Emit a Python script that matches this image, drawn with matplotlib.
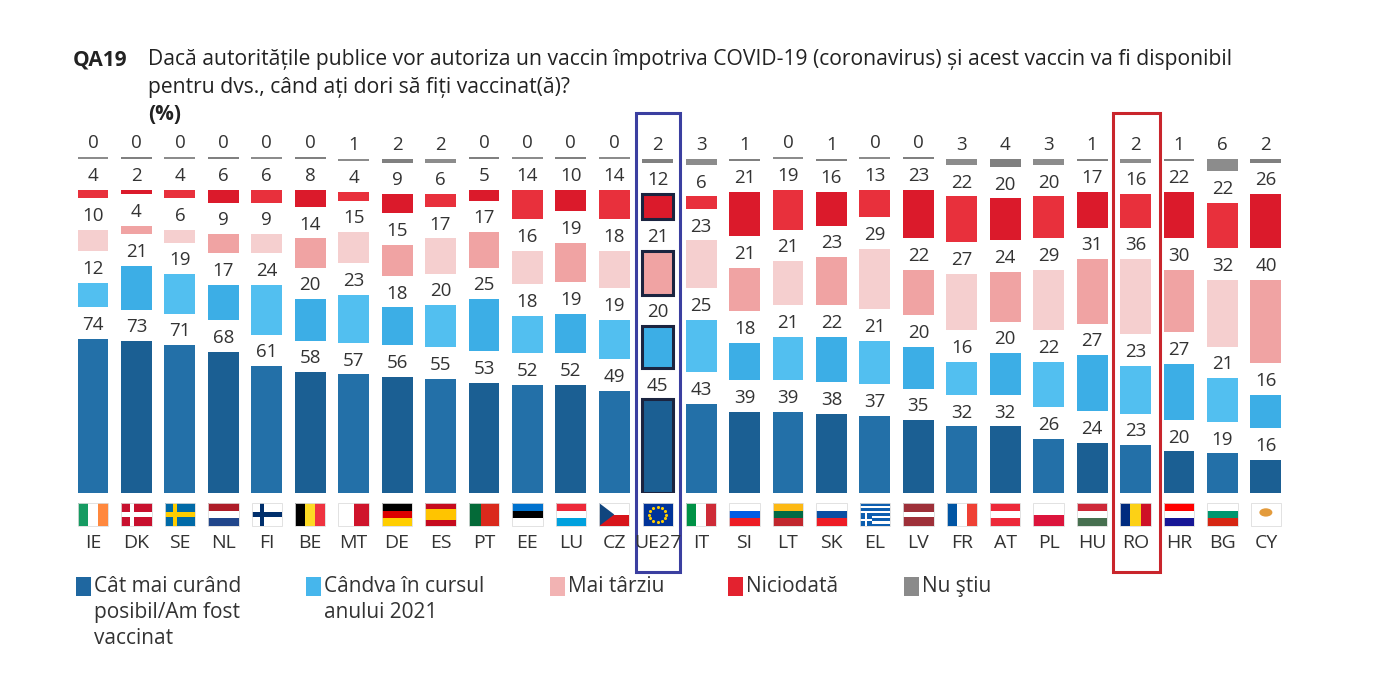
import numpy as np
import matplotlib
matplotlib.use('Agg')
import matplotlib.pyplot as plt
from matplotlib.patches import Rectangle, Polygon, Ellipse

plt.rcParams['font.family'] = ['Open Sans', 'DejaVu Sans']

countries = ['IE', 'DK', 'SE', 'NL', 'FI', 'BE', 'MT', 'DE', 'ES', 'PT', 'EE', 'LU', 'CZ', 'UE27',
             'IT', 'SI', 'LT', 'SK', 'EL', 'LV', 'FR', 'AT', 'PL', 'HU', 'RO', 'HR', 'BG', 'CY']
asap = [74, 73, 71, 68, 61, 58, 57, 56, 55, 53, 52, 52, 49, 45,
        43, 39, 39, 38, 37, 35, 32, 32, 26, 24, 23, 20, 19, 16]
in2021 = [12, 21, 19, 17, 24, 20, 23, 18, 20, 25, 18, 19, 19, 20,
          25, 18, 21, 22, 21, 20, 16, 20, 22, 27, 23, 27, 21, 16]
later = [10, 4, 6, 9, 9, 14, 15, 15, 17, 17, 16, 19, 18, 21,
         23, 21, 21, 23, 29, 22, 27, 24, 29, 31, 36, 30, 32, 40]
never = [4, 2, 4, 6, 6, 8, 4, 9, 6, 5, 14, 10, 14, 12,
         6, 21, 19, 16, 13, 23, 22, 20, 20, 17, 16, 22, 22, 26]
dontknow = [0, 0, 0, 0, 0, 0, 1, 2, 2, 0, 0, 0, 0, 2,
            3, 1, 0, 1, 0, 0, 3, 4, 3, 1, 2, 1, 6, 2]

series = [asap, in2021, later, never, dontknow]
labels = ['Cât mai curând\nposibil/Am fost\nvaccinat', 'Cândva în cursul\nanului 2021',
          'Mai târziu', 'Niciodată', 'Nu ştiu']
# (even index shade, odd index shade)
shades = [('#2370a8', '#1b5f93'), ('#52bff0', '#3caee6'), ('#f5cfcf', '#f0a3a3'),
          ('#e8303c', '#db1a2b'), ('#8c8c8c', '#808080')]
legend_colors = ['#1f67a0', '#46b6ec', '#f2b3b3', '#e3222f', '#8a8a8a']

W, H = 1400, 699
fig = plt.figure(figsize=(14, 6.99), dpi=100)

px = 2.08          # pixels per percentage point
base_px = 493      # bar baseline, from top
top_px = 130
gap = 15.2         # vertical gap between segments (data units)
step = 43.44
left_px = 93 - step / 2
ax = fig.add_axes([left_px / W, (H - base_px) / H, 28 * step / W, (base_px - top_px) / H])
ax.set_xlim(-0.5, 27.5)
ax.set_ylim(0, (base_px - top_px) / px)
ax.axis('off')

x = np.arange(len(countries))
bw = 0.71
eu = countries.index('UE27')
ro = countries.index('RO')

bottom = np.zeros(len(countries))
for k, vals in enumerate(series):
    vals = np.array(vals, dtype=float)
    heights = np.maximum(vals, 0.7)
    cols = [shades[k][i % 2] for i in range(len(countries))]
    bars = ax.bar(x, heights, bw, bottom=bottom, color=cols, linewidth=0)
    if k < 4:
        bars[eu].set_edgecolor('#1b2440')
        bars[eu].set_linewidth(2.2)
    for i, v in enumerate(vals):
        ax.annotate(str(int(v)), (x[i], bottom[i] + heights[i]), xytext=(0, 10),
                    textcoords='offset points', ha='center', va='center',
                    fontsize=13.5, color='#333333', annotation_clip=False)
    bottom = bottom + vals + gap

# flags
fy0, fy1 = -4.8, -15.9
fh = fy1 - fy0
fw = 0.70


def rect(x0, y0, w, h, c):
    ax.add_patch(Rectangle((x0, y0), w, h, facecolor=c, edgecolor='none', clip_on=False))


def hstripes(c, cols, ratios=None):
    ratios = ratios or [1] * len(cols)
    tot = sum(ratios)
    y = fy0
    for col, r in zip(cols, ratios):
        h = fh * r / tot
        rect(c - fw / 2, y, fw, h, col)
        y += h


def vstripes(c, cols, ratios=None):
    ratios = ratios or [1] * len(cols)
    tot = sum(ratios)
    xx = c - fw / 2
    for col, r in zip(cols, ratios):
        w = fw * r / tot
        rect(xx, fy1, w, -fh, col)
        xx += w


def nordic(c, bg, cross):
    rect(c - fw / 2, fy1, fw, -fh, bg)
    rect(c - fw / 2 + fw * 0.28, fy1, fw * 0.14, -fh, cross)
    rect(c - fw / 2, (fy0 + fy1) / 2 - fh * 0.1, fw, fh * 0.2, cross)


flags = {
    'IE': ('v', ['#169b62', '#ffffff', '#ff883e']),
    'NL': ('h', ['#ae1c28', '#ffffff', '#21468b']),
    'BE': ('v', ['#000000', '#fdda24', '#ef3340']),
    'MT': ('v', ['#ffffff', '#cf142b']),
    'DE': ('h', ['#000000', '#dd0000', '#ffce00']),
    'ES': ('h', ['#c60b1e', '#ffc400', '#c60b1e'], [1, 2, 1]),
    'PT': ('v', ['#046a38', '#da291c'], [2, 3]),
    'EE': ('h', ['#0072ce', '#000000', '#ffffff']),
    'LU': ('h', ['#ed2939', '#ffffff', '#00a1de']),
    'IT': ('v', ['#009246', '#ffffff', '#ce2b37']),
    'SI': ('h', ['#ffffff', '#005ce5', '#ed1c24']),
    'LT': ('h', ['#fdb913', '#006a44', '#c1272d']),
    'SK': ('h', ['#ffffff', '#0b4ea2', '#ee1c25']),
    'LV': ('h', ['#9e3039', '#ffffff', '#9e3039'], [2, 1, 2]),
    'FR': ('v', ['#0055a4', '#ffffff', '#ef4135']),
    'AT': ('h', ['#ed2939', '#ffffff', '#ed2939']),
    'PL': ('h', ['#ffffff', '#dc143c']),
    'HU': ('h', ['#ce2939', '#ffffff', '#477050']),
    'RO': ('v', ['#002b7f', '#fcd116', '#ce1126']),
    'HR': ('h', ['#ff0000', '#ffffff', '#171796']),
    'BG': ('h', ['#ffffff', '#00966e', '#d62612']),
}

for i, c in enumerate(countries):
    if c in flags:
        spec = flags[c]
        fn = hstripes if spec[0] == 'h' else vstripes
        fn(i, *spec[1:])
    elif c == 'DK':
        nordic(i, '#c8102e', '#ffffff')
    elif c == 'SE':
        nordic(i, '#006aa7', '#fecc00')
    elif c == 'FI':
        nordic(i, '#ffffff', '#002f6c')
    elif c == 'CZ':
        hstripes(i, ['#ffffff', '#d7141a'])
        ax.add_patch(Polygon([(i - fw / 2, fy0), (i - fw / 2, fy1), (i, (fy0 + fy1) / 2)],
                             facecolor='#11457e', edgecolor='none', clip_on=False))
    elif c == 'EL':
        hstripes(i, ['#0d5eaf', '#ffffff'] * 4 + ['#0d5eaf'])
        rect(i - fw / 2, fy1, fw * 0.4, -fh * 5 / 9, '#0d5eaf')
        rect(i - fw / 2 + fw * 0.16, fy1, fw * 0.08, -fh * 5 / 9, '#ffffff')
        rect(i - fw / 2, fy1 - fh * 5 / 18 - fh * 0.05, fw * 0.4, fh * 0.1, '#ffffff')
    elif c == 'UE27':
        rect(i - fw / 2, fy1, fw, -fh, '#003399')
        ang = np.linspace(0, 2 * np.pi, 13)[:-1]
        ax.scatter(i + 0.2 * np.cos(ang), (fy0 + fy1) / 2 + 3.4 * np.sin(ang),
                   s=1.5, color='#ffcc00', clip_on=False, zorder=3)
    elif c == 'CY':
        rect(i - fw / 2, fy1, fw, -fh, '#ffffff')
        ax.add_patch(Ellipse((i, (fy0 + fy1) / 2 + 1), 0.3, 4, facecolor='#e39b3c',
                             edgecolor='none', clip_on=False))
    ax.add_patch(Rectangle((i - fw / 2, fy1), fw, -fh, facecolor='none',
                           edgecolor='#dddddd', linewidth=0.6, clip_on=False))
    ax.text(i, -24, c, ha='center', va='center', fontsize=14, color='#333333')

# highlight boxes
ax.add_patch(Rectangle((eu - 0.5, -38), 1.02, 220.5, facecolor='none', edgecolor='#3b3fa0',
                       linewidth=2.2, clip_on=False))
ax.add_patch(Rectangle((ro - 0.52, -38), 1.08, 220.5, facecolor='none', edgecolor='#c9252c',
                       linewidth=2.2, clip_on=False))

# title
fig.text(73 / W, 1 - 60 / H, 'QA19', fontsize=15, fontweight='bold', color='#222222',
         ha='left', va='center')
fig.text(148 / W, 1 - 60 / H,
         'Dacă autoritățile publice vor autoriza un vaccin împotriva COVID-19 (coronavirus) și acest vaccin va fi disponibil',
         fontsize=15.2, color='#222222', ha='left', va='center')
fig.text(148 / W, 1 - 87 / H, 'pentru dvs., când ați dori să fiți vaccinat(ă)?',
         fontsize=15.2, color='#222222', ha='left', va='center')
fig.text(148 / W, 1 - 114 / H, '(%)', fontsize=15, fontweight='bold', color='#222222',
         ha='left', va='center')

# legend
leg_x = [76, 306, 550, 728, 904]
for lx, lab, col in zip(leg_x, labels, legend_colors):
    fig.patches.append(Rectangle((lx / W, 1 - 596 / H), 15 / W, 19 / H, facecolor=col,
                                 edgecolor='none', transform=fig.transFigure))
    fig.text((lx + 18) / W, 1 - 576 / H, lab, fontsize=15, color='#333333', ha='left',
             va='top', linespacing=1.3)

fig.savefig('out.png', dpi=100, facecolor='white')
